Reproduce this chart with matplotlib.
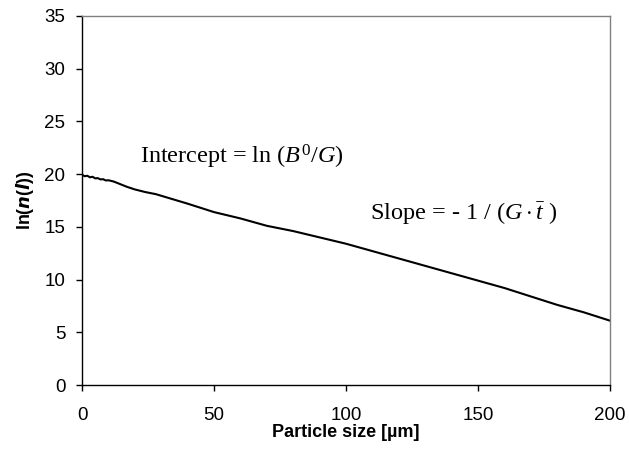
import matplotlib.pyplot as plt

# particle size [um] and ln(n(l))
size = [0, 1, 2, 3, 4, 5, 6, 7, 8, 9, 10, 12, 14, 17, 20, 24, 28, 32, 36,
        40, 45, 50, 55, 60, 65, 70, 80, 90, 100, 110, 120, 130, 140, 150,
        160, 170, 180, 190, 200]
ln_n = [19.95, 19.8, 19.85, 19.7, 19.75, 19.6, 19.62, 19.5, 19.52, 19.4, 19.42,
        19.3, 19.1, 18.8, 18.55, 18.3, 18.1, 17.8, 17.5, 17.2, 16.8, 16.4,
        16.1, 15.8, 15.45, 15.1, 14.6, 14.0, 13.4, 12.7, 12.0, 11.3, 10.6,
        9.9, 9.2, 8.4, 7.6, 6.9, 6.1]

xticks = [0, 50, 100, 150, 200]
yticks = [0, 5, 10, 15, 20, 25, 30, 35]

plt.rcParams['font.family'] = ['Liberation Sans', 'DejaVu Sans']
plt.rcParams['mathtext.fontset'] = 'custom'
plt.rcParams['mathtext.rm'] = 'Liberation Serif'
plt.rcParams['mathtext.it'] = 'Liberation Serif:italic'

fig = plt.figure(figsize=(6.29, 4.51), dpi=100)
ax = fig.add_axes([82 / 629, 1 - 385 / 451, 528 / 629, 369 / 451])

ax.plot(size, ln_n, color='black', lw=1.5)

ax.set_xlim(0, 200)
ax.set_ylim(0, 35)
ax.set_xticks(xticks)
ax.set_yticks(yticks)
ax.tick_params(labelsize=13.5, direction='out', length=4, width=1, pad=8)
ax.tick_params(axis='x', pad=12)
for side in ['top', 'right']:
    ax.spines[side].set_color('gray')
    ax.spines[side].set_linewidth(1)
for side in ['left', 'bottom']:
    ax.spines[side].set_linewidth(1)

ax.set_xlabel('Particle size [µm]', fontsize=13, fontweight='bold', labelpad=0)
ax.set_ylabel(r'ln($\mathbfit{n}$($\mathbfit{l}$))', fontsize=13,
              fontweight='bold', labelpad=6)

ax.text(22, 21.6, r'Intercept = ln ($B^0$/$G$)', fontsize=17.5,
        family='Liberation Serif', va='center')
ax.text(109, 16.3, r'Slope = - 1 / ($G\cdot\bar{t}$ )', fontsize=17.5,
        family='Liberation Serif', va='center')

fig.savefig('out.png', dpi=100)
